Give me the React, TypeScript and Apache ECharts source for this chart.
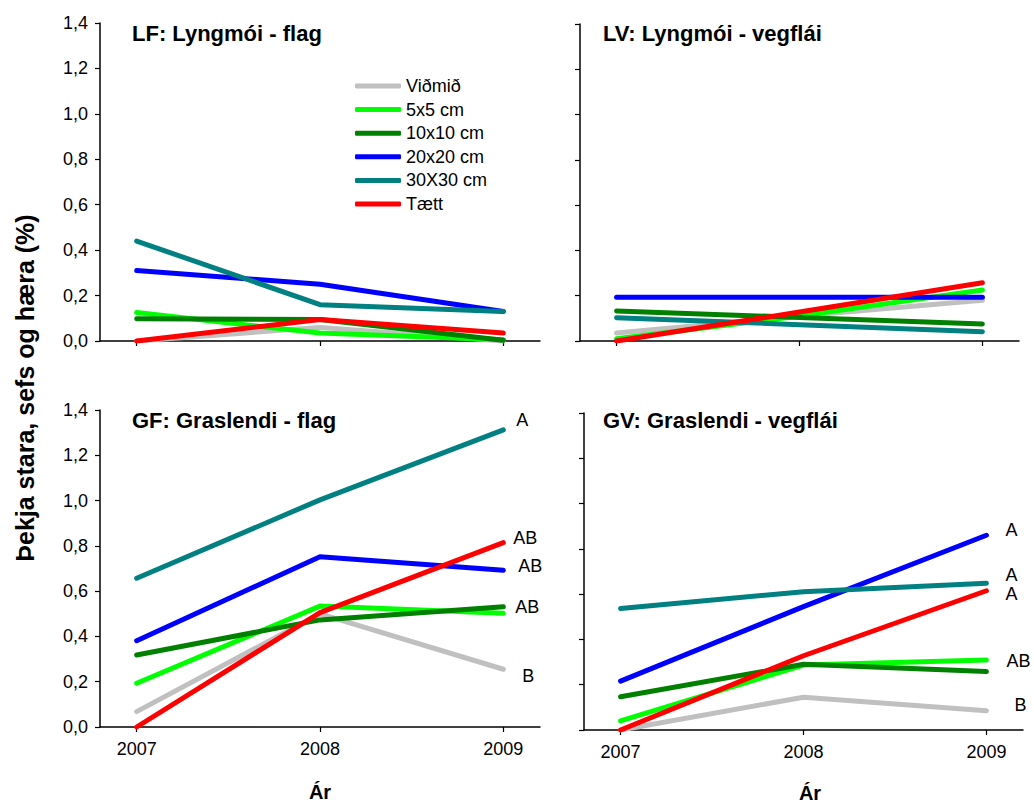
import React, { useEffect, useRef } from "react";
import * as echarts from "echarts";

// Years sampled
const years = [2007, 2008, 2009];

// Treatments, in drawing order
const treatments = ["Viðmið", "5x5 cm", "10x10 cm", "20x20 cm", "30X30 cm", "Tætt"];
const colors = ["#c0c0c0", "#00ff00", "#008000", "#0000ff", "#008080", "#ff0000"];

// Cover (%) per treatment (rows follow `treatments`), columns follow `years`
const LF = [
  [0.0, 0.06, 0.0],
  [0.125, 0.035, 0.005],
  [0.098, 0.095, 0.003],
  [0.31, 0.25, 0.13],
  [0.44, 0.16, 0.13],
  [0.0, 0.095, 0.035],
];
const LV = [
  [0.035, 0.11, 0.18],
  [0.01, 0.11, 0.225],
  [0.133, 0.104, 0.075],
  [0.193, 0.193, 0.193],
  [0.103, 0.072, 0.041],
  [0.0, 0.128, 0.257],
];
const GF = [
  [0.068, 0.5, 0.255],
  [0.193, 0.534, 0.502],
  [0.318, 0.473, 0.531],
  [0.381, 0.752, 0.692],
  [0.657, 1.003, 1.312],
  [0.0, 0.505, 0.814],
];
const GV = [
  [0.0, 0.145, 0.085],
  [0.04, 0.287, 0.309],
  [0.147, 0.29, 0.258],
  [0.216, 0.545, 0.86],
  [0.537, 0.611, 0.648],
  [0.0, 0.328, 0.615],
];

// Significance letters for the 2009 values
const GF_letters = ["B", "", "AB", "AB", "A", "AB"];
const GV_letters = ["B", "AB", "", "A", "A", "A"];
const noLetters = ["", "", "", "", "", ""];

// Y axis ticks
const yTicks = [0, 0.2, 0.4, 0.6, 0.8, 1.0, 1.2, 1.4];

const panelTitles = ["LF: Lyngmói - flag", "LV: Lyngmói - vegflái", "GF: Graslendi - flag", "GV: Graslendi - vegflái"];

const FONT = "'Liberation Sans', Arial, Helvetica, sans-serif";

// Label placement next to the last point
const GF_offsets: [number, number][] = [[25, 7], [0, 0], [24, 0], [27, -4], [19, -10], [22, -5]];
const GV_offsets: [number, number][] = [[34, -6], [32, 1], [0, 0], [25, -5], [25, -8], [25, 3]];
const zeroOffsets: [number, number][] = treatments.map(() => [0, 0]);

const grids = [
  { left: 100, top: 23, width: 440, height: 318 },
  { left: 580, top: 24, width: 439, height: 317 },
  { left: 100, top: 410, width: 440, height: 317 },
  { left: 584, top: 413, width: 439, height: 317 },
];

export default function App() {
  const ref = useRef<HTMLDivElement>(null);

  useEffect(() => {
    if (!ref.current) return;
    const chart = echarts.init(ref.current, undefined, { renderer: "svg" });

    const panels = [
      { data: LF, letters: noLetters, offsets: zeroOffsets },
      { data: LV, letters: noLetters, offsets: zeroOffsets },
      { data: GF, letters: GF_letters, offsets: GF_offsets },
      { data: GV, letters: GV_letters, offsets: GV_offsets },
    ];

    const axisLine = { show: true, onZero: false, lineStyle: { color: "#000", width: 1.5 } };
    const axisTick = { show: true, inside: false, length: 5, lineStyle: { color: "#000", width: 1.2 } };

    const xAxis = grids.map((_, i) => ({
      type: "value",
      gridIndex: i,
      min: 2006.8,
      max: 2009.2,
      axisLine,
      axisTick: { ...axisTick, customValues: years },
      axisLabel: {
        show: i >= 2,
        customValues: years,
        margin: 13,
        fontSize: 18,
        color: "#000",
        fontFamily: FONT,
        formatter: (v: number) => String(Math.round(v)),
      },
      splitLine: { show: false },
    }));

    const yAxis = grids.map((_, i) => ({
      type: "value",
      gridIndex: i,
      min: 0,
      max: 1.4,
      interval: 0.2,
      axisLine,
      axisTick: { ...axisTick, customValues: yTicks },
      axisLabel: {
        show: i % 2 === 0,
        customValues: yTicks,
        margin: 12,
        fontSize: 18,
        color: "#000",
        fontFamily: FONT,
        formatter: (v: number) => v.toFixed(1).replace(".", ","),
      },
      splitLine: { show: false },
    }));

    const series: any[] = [];
    panels.forEach((p, pi) => {
      p.data.forEach((vals, ti) => {
        const letter = p.letters[ti];
        series.push({
          type: "line",
          name: treatments[ti],
          xAxisIndex: pi,
          yAxisIndex: pi,
          color: colors[ti],
          symbol: "circle",
          symbolSize: 1,
          showSymbol: true,
          lineStyle: { width: 5, color: colors[ti], cap: "round", join: "round" },
          itemStyle: { color: colors[ti] },
          emphasis: { disabled: true },
          z: 2 + ti,
          data: vals.map((v, k) => {
            const item: any = { value: [years[k], v] };
            if (k === years.length - 1 && letter) {
              item.label = {
                show: true,
                formatter: letter,
                position: "inside",
                offset: p.offsets[ti],
                align: "center",
                verticalAlign: "middle",
                fontSize: 18,
                color: "#000",
                fontFamily: FONT,
              };
            }
            return item;
          }),
        });
      });
    });

    const titleSpots = [
      { left: 132, top: 22 },
      { left: 603, top: 22 },
      { left: 132, top: 409 },
      { left: 603, top: 409 },
    ];

    chart.setOption({
      animation: false,
      backgroundColor: "#fff",
      grid: grids.map((g) => ({ ...g, containLabel: false })),
      xAxis,
      yAxis,
      title: panelTitles.map((t, i) => ({
        text: t,
        left: titleSpots[i].left,
        top: titleSpots[i].top,
        padding: 0,
        textStyle: { fontSize: 22, fontWeight: "bold", color: "#000", fontFamily: FONT },
      })),
      legend: {
        data: treatments,
        orient: "vertical",
        left: 350,
        top: 72,
        icon: "roundRect",
        itemWidth: 46,
        itemHeight: 5,
        itemGap: 5.6,
        selectedMode: false,
        textStyle: { fontSize: 18, lineHeight: 18, color: "#000", fontFamily: FONT },
      },
      graphic: [
        {
          type: "text",
          x: 25,
          y: 388,
          rotation: Math.PI / 2,
          style: {
            text: "Þekja stara, sefs og hæra (%)",
            font: `bold 25px ${FONT}`,
            fill: "#000",
            textAlign: "center",
            textVerticalAlign: "middle",
          },
        },
        {
          type: "text",
          x: 320,
          y: 792,
          style: { text: "Ár", font: `bold 20px ${FONT}`, fill: "#000", textAlign: "center", textVerticalAlign: "middle" },
        },
        {
          type: "text",
          x: 810,
          y: 793,
          style: { text: "Ár", font: `bold 20px ${FONT}`, fill: "#000", textAlign: "center", textVerticalAlign: "middle" },
        },
      ],
      series,
    });

    return () => chart.dispose();
  }, []);

  return (
    <div
      ref={ref}
      style={{ position: "fixed", left: 0, top: 0, width: 1034, height: 805, background: "#fff" }}
    />
  );
}
